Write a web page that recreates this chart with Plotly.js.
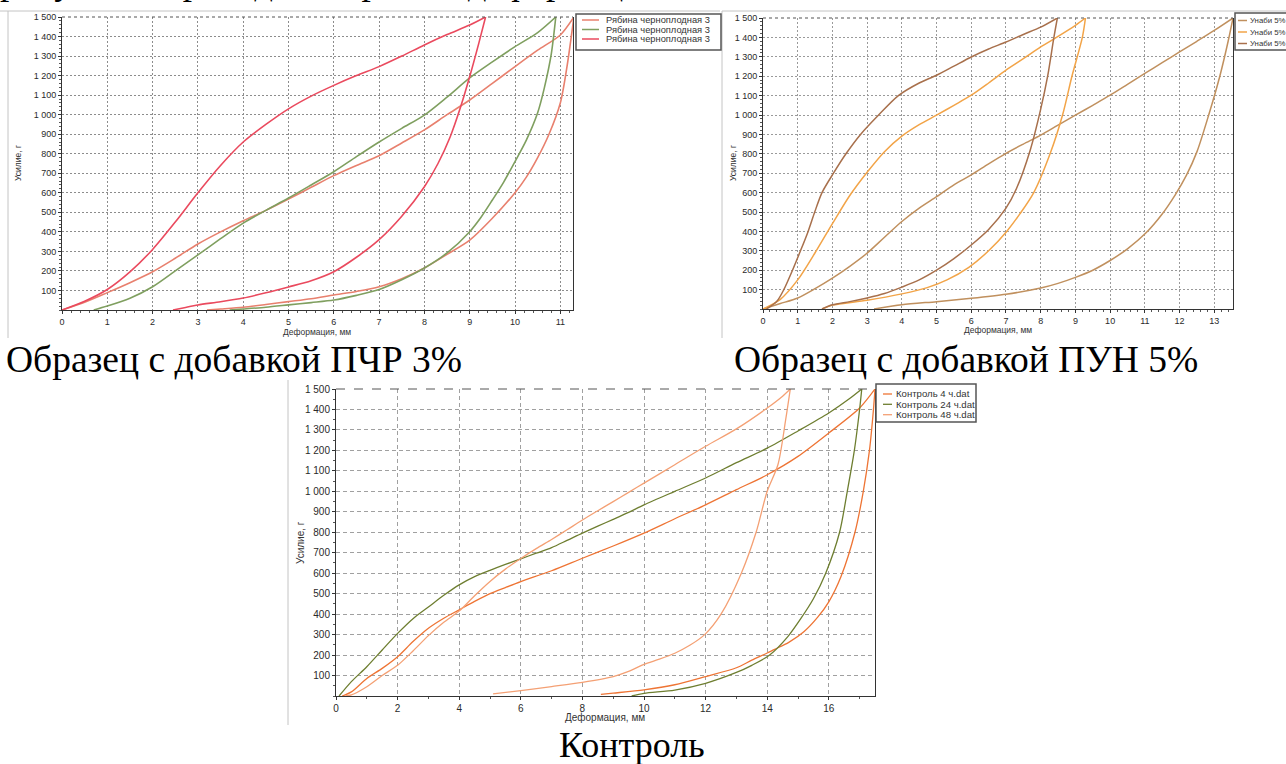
<!DOCTYPE html>
<html>
<head>
<meta charset="utf-8">
<script src="https://cdn.plot.ly/plotly-3.0.1.min.js"></script>
<style>
html,body{margin:0;padding:0;background:#ffffff;}
#chart{width:1286px;height:764px;}
</style>
</head>
<body>
<div id="chart"></div>
<script>
// ---------------- DATA ----------------
// Common y tick labels (Усилие, г)
const yTicks = [100,200,300,400,500,600,700,800,900,1000,1100,1200,1300,1400,1500];

// Chart 1: Образец с добавкой ПЧР 3%
const pchrNames  = ["Рябина черноплодная 3", "Рябина черноплодная 3", "Рябина черноплодная 3"];
const pchrColors = ["#e8806e", "#7f9f5f", "#ea4a5e"];
const pchr1_x = [0,0.5,1,1.5,2,2.5,3,3.5,4,4.5,5,5.5,6,6.5,7,7.5,8,8.5,9,9.5,10,10.5,11,11.3,
                 11.15,11.0,10.75,10.5,10.25,10,9.5,9,8.5,8,7.5,7,6.5,6,5.5,5,4.5,4,3.5,3.2];
const pchr1_y = [0,40,89,140,196,265,338,400,457,510,568,628,688,740,790,855,922,1000,1075,1160,1246,1330,1408,1500,
                 1250,1060,900,780,680,600,470,358,285,215,160,119,95,77,58,43,28,14,5,0];
const pchr2_x = [0.7,1,1.5,2,2.5,3,3.5,4,4.5,5,5.5,6,6.5,7,7.5,8,8.5,9,9.5,10,10.5,10.9,
                 10.8,10.65,10.5,10.25,10,9.75,9.5,9.25,9,8.5,8,7.5,7,6.5,6,5.5,5,4.5,4,3.7];
const pchr2_y = [0,20,60,119,200,282,365,445,510,573,640,708,785,860,930,998,1090,1188,1270,1348,1420,1500,
                 1310,1140,1010,870,760,655,563,475,401,292,215,155,105,75,51,38,26,14,5,0];
const pchr3_x = [0,0.5,1,1.5,2,2.5,3,3.5,4,4.5,5,5.5,6,6.5,7,7.5,8,8.5,9,9.35,
                 9.2,9,8.8,8.57,8.3,8,7.5,7,6.5,6,5.5,5,4.5,4,3.5,3,2.7,2.45];
const pchr3_y = [0,45,105,195,310,450,600,740,860,950,1030,1095,1150,1200,1246,1300,1357,1410,1459,1500,
                 1365,1195,1040,887,750,631,480,360,270,196,150,118,88,61,42,26,12,0];

// Chart 2: Образец с добавкой ПУН 5%
const punNames  = ["Унаби 5%", "Унаби 5%", "Унаби 5%"];
const punColors = ["#c0905e", "#f2a448", "#a8704c"];
const pun1_x = [0,0.5,1,1.5,2,2.5,3,3.5,4,4.5,5,5.5,6,6.5,7,7.5,8,8.5,9,9.5,10,10.5,11,11.5,12,12.5,13,13.54,
                13.4,13.16,12.84,12.5,12.2,11.88,11.5,11.02,10.5,10,9.5,9,8.5,8,7,6,5,4,3.2];
const pun1_y = [0,28,57,105,159,220,288,370,451,520,579,640,691,748,802,850,896,948,999,1050,1102,1158,1214,1270,1325,1380,1436,1500,
                1380,1200,1000,810,690,590,490,390,310,250,200,163,132,108,76,55,38,22,0];
const pun2_x = [0,0.5,1,1.5,2,2.5,3,3.5,4,4.5,5,5.5,6,6.5,7,7.5,8,8.5,9,9.29,
                9.2,8.9,8.63,8.27,7.8,7.4,7.02,6.5,5.93,5.3,4.73,4,3,2,1.7];
const pun2_y = [0,50,150,290,440,585,705,811,891,950,999,1050,1102,1165,1231,1290,1351,1405,1462,1500,
                1400,1200,1000,800,600,490,400,300,215,150,110,78,45,20,0];
const pun3_x = [0.1,0.4,0.6,0.85,1.08,1.3,1.49,1.7,2.03,2.39,2.81,3.33,3.9,4.5,5,5.5,6,6.5,7,7.5,8,8.48,
                8.38,8.2,8.0,7.7,7.3,7,6.5,6,5.5,5,4.5,4,3.5,3,2.5,2,1.7];
const pun3_y = [0,40,100,200,300,400,500,600,700,800,900,1000,1100,1165,1205,1252,1299,1340,1376,1415,1453,1500,
                1400,1200,1030,820,620,520,410,330,260,200,150,113,80,57,38,22,0];

// Chart 3: Контроль
const ctrlNames  = ["Контроль 4 ч.dat", "Контроль 24 ч.dat", "Контроль 48 ч.dat"];
const ctrlColors = ["#ee7434", "#6e7e30", "#f4a074"];
const ctrl1_x = [0.2,0.5,1,1.5,2,2.5,3,3.5,4,4.5,5,5.5,6,7,8,9,10,11,12,13,14,15,16,17,17.5,
                 17.45,17.32,17.12,16.85,16.4,16,15.64,15.2,14.7,14.24,14,13.5,13,12,11,10,9,8.6];
const ctrl1_y = [0,20,86,135,192,266,331,380,421,462,500,530,559,612,673,733,796,866,934,1008,1081,1171,1285,1407,1500,
                 1400,1200,1000,800,585,460,385,315,262,228,210,175,138,95,55,30,14,8];
const ctrl2_x = [0.1,0.5,1,1.5,2,2.5,3,3.5,4,4.5,5,5.5,6,6.5,7,7.5,8,8.5,9,9.5,10,11,12,13,14,15,16,16.7,17.07,
                 17.0,16.83,16.6,16.35,15.9,15.5,15.1,14.67,14.08,13.5,13,12,11,10,9.6];
const ctrl2_y = [0,70,143,225,306,378,435,492,543,583,614,643,670,698,725,760,796,830,863,897,934,1000,1065,1140,1211,1295,1383,1456,1500,
                 1400,1200,1000,800,600,475,380,290,200,150,115,62,29,13,0];
const ctrl3_x = [0.3,0.5,1,1.5,2,2.5,3,3.5,4,4.5,5,5.5,6,6.5,7,7.5,8,8.5,9,9.5,10,11,12,13,14,14.5,14.75,
                 14.6,14.35,14.0,13.64,13.16,12.5,11.97,11.5,11,10.5,10,9.5,9,8,7,6,5.1];
const ctrl3_y = [0,5,45,100,150,220,295,360,415,490,560,620,672,720,765,812,860,905,950,995,1040,1130,1220,1305,1407,1465,1500,
                 1350,1131,1000,800,600,400,300,249,209,180,155,120,95,67,46,26,10];

// ---------------- LAYOUT HELPERS ----------------
const W = 1286, H = 764;
const fx = p => p / W;
const fy = p => 1 - p / H;
const tickFamily = "Liberation Sans, Arial, sans-serif";

function xAxis(d0, d1, anchor, xmax, dtick, minorDtick, fs, gridcolor, griddash) {
  return {
    domain: [fx(d0), fx(d1)], anchor: anchor, range: [0, xmax],
    tickmode: 'linear', tick0: 0, dtick: dtick,
    showgrid: true, gridcolor: gridcolor, griddash: griddash, gridwidth: 1,
    showline: true, linecolor: '#333333', linewidth: 1, mirror: false,
    ticks: 'outside', ticklen: 3, tickcolor: '#333333', tickwidth: 1,
    minor: {dtick: minorDtick, ticks: 'outside', ticklen: 2, tickcolor: '#555555', showgrid: false},
    tickfont: {family: tickFamily, size: fs, color: '#2a2a2a'},
    zeroline: false, fixedrange: true, automargin: false
  };
}
function yAxis(d0, d1, anchor, minorDtick, fs, gridcolor, griddash) {
  return {
    domain: [fy(d1), fy(d0)], anchor: anchor, range: [0, 1500],
    tickmode: 'array', tickvals: yTicks, separatethousands: true,
    showgrid: true, gridcolor: gridcolor, griddash: griddash, gridwidth: 1,
    showline: true, linecolor: '#333333', linewidth: 1, mirror: true,
    ticks: 'outside', ticklen: 3, tickcolor: '#333333', tickwidth: 1,
    minor: {dtick: minorDtick, ticks: 'outside', ticklen: 2, tickcolor: '#555555', showgrid: false},
    tickfont: {family: tickFamily, size: fs, color: '#2a2a2a'},
    zeroline: false, fixedrange: true, automargin: false
  };
}

// Plot-area pixel boxes [left, right, top, bottom]
const box1 = [62, 573, 17, 310];
const box2 = [763, 1233, 18, 309];
const box3 = [336, 875, 389, 696];

// ---------------- TRACES ----------------
// each loop = loading branch (up to the 1500 g peak) + unloading branch, drawn as smooth curves
const traces = [];
function loop(x, y, color, xa, ya, width, name) {
  let k = 0;
  for (let i = 1; i < y.length; i++) if (y[i] > y[k]) k = i;
  const parts = [[x.slice(0, k + 1), y.slice(0, k + 1)], [x.slice(k), y.slice(k)]];
  parts.forEach(p => traces.push({
    x: p[0], y: p[1], type: 'scatter', mode: 'lines', name: name, xaxis: xa, yaxis: ya,
    line: {color: color, width: width, shape: 'spline', smoothing: 0.8},
    showlegend: false, hoverinfo: 'skip', cliponaxis: true
  }));
}
loop(pchr1_x, pchr1_y, pchrColors[0], 'x', 'y', 1.6, pchrNames[0]);
loop(pchr2_x, pchr2_y, pchrColors[1], 'x', 'y', 1.6, pchrNames[1]);
loop(pchr3_x, pchr3_y, pchrColors[2], 'x', 'y', 1.6, pchrNames[2]);
loop(pun1_x, pun1_y, punColors[0], 'x2', 'y2', 1.5, punNames[0]);
loop(pun2_x, pun2_y, punColors[1], 'x2', 'y2', 1.5, punNames[1]);
loop(pun3_x, pun3_y, punColors[2], 'x2', 'y2', 1.5, punNames[2]);
loop(ctrl1_x, ctrl1_y, ctrlColors[0], 'x3', 'y3', 1.3, ctrlNames[0]);
loop(ctrl2_x, ctrl2_y, ctrlColors[1], 'x3', 'y3', 1.3, ctrlNames[1]);
loop(ctrl3_x, ctrl3_y, ctrlColors[2], 'x3', 'y3', 1.3, ctrlNames[2]);

// ---------------- SHAPES & ANNOTATIONS ----------------
const shapes = [];
const annotations = [];
function pline(x0, y0, x1, y1, color, width, dash) {
  shapes.push({type: 'line', xref: 'paper', yref: 'paper', x0: fx(x0), y0: fy(y0), x1: fx(x1), y1: fy(y1),
               line: {color: color, width: width, dash: dash || 'solid'}, layer: 'above'});
}
function prect(x0, y0, x1, y1, color, width) {
  shapes.push({type: 'rect', xref: 'paper', yref: 'paper', x0: fx(x0), y0: fy(y1), x1: fx(x1), y1: fy(y0),
               line: {color: color, width: width}, fillcolor: '#ffffff', layer: 'above'});
}
function text(t, x, y, size, opts) {
  opts = opts || {};
  annotations.push(Object.assign({
    text: t, xref: 'paper', yref: 'paper', x: fx(x), y: fy(y), showarrow: false,
    xanchor: 'center', yanchor: 'middle',
    font: {family: tickFamily, size: size, color: '#333333'}
  }, opts));
}

// screenshot frames
pline(0, 11, 720, 11, '#c4c4c4', 1);
pline(8, 11, 8, 338, '#c4c4c4', 1);
pline(722, 11, 1286, 11, '#c4c4c4', 1);
pline(722, 11, 722, 338, '#c4c4c4', 1);
pline(288, 380, 288, 725, '#c4c4c4', 1);

// top borders of the plot areas (dashed)
pline(box1[0], box1[2], box1[1], box1[2], '#555555', 1.2, 'dot');
pline(box2[0], box2[2], box2[1], box2[2], '#555555', 1.2, 'dot');
pline(box3[0], box3[2], box3[1], box3[2], '#555555', 1, 'dash');

// axis titles
text("Деформация, мм", 317, 332, 8.5);
text("Усилие, г", 18, 163, 8.5, {textangle: -90});
text("Деформация, мм", 998, 330, 8.5);
text("Усилие, г", 733, 163, 8.5, {textangle: -90});
text("Деформация, мм", 605, 717, 10);
text("Усилие, г", 300, 543, 10, {textangle: -90});

// custom legends (compact, as in the source screenshots)
function legend(bx0, by0, bx1, by1, sw0, sw1, tx, ys, names, colors, fs, lw) {
  prect(bx0, by0, bx1, by1, '#555555', 1.5);
  for (let i = 0; i < names.length; i++) {
    pline(sw0, ys[i], sw1, ys[i], colors[i], lw);
    text(names[i], tx, ys[i], fs, {xanchor: 'left', font: {family: tickFamily, size: fs, color: '#333333'}});
  }
}
legend(576, 14, 721, 50, 582, 599, 604, [20, 29.5, 39], pchrNames, pchrColors, 9.3, 1.5);
legend(1235, 13, 1292, 50, 1238, 1247, 1248, [20.5, 32, 43.5], punNames, punColors, 7.8, 1.5);
legend(876, 384, 976, 422, 883, 892, 894, [394, 404.3, 414.7], ctrlNames, ctrlColors, 9.6, 1.3);

// captions (document text around the figure)
const serif = "Liberation Serif, Times New Roman, serif";
text("рисунке 3 приведены кривые деформаций.", -2, 4, 37,
     {xanchor: 'left', yanchor: 'bottom', font: {family: serif, size: 37, color: '#000000'}});
text("Образец с добавкой ПЧР 3%", 4, 360, 37.5,
     {xanchor: 'left', font: {family: serif, size: 37.5, color: '#000000'}});
text("Образец с добавкой ПУН 5%", 732, 360, 37.5,
     {xanchor: 'left', font: {family: serif, size: 37.5, color: '#000000'}});
text("Контроль", 632, 745, 36,
     {font: {family: serif, size: 36, color: '#000000'}});

const layout = {
  width: W, height: H,
  margin: {l: 0, r: 0, t: 0, b: 0, pad: 0},
  paper_bgcolor: '#ffffff', plot_bgcolor: '#ffffff',
  separators: ', ',
  showlegend: false,
  xaxis:  xAxis(box1[0], box1[1], 'y',  11.28, 1, 0.2, 9, '#8c8c8c', '2px,2px'),
  yaxis:  yAxis(box1[2], box1[3], 'x', 20, 9, '#8c8c8c', '2px,2px'),
  xaxis2: xAxis(box2[0], box2[1], 'y2', 13.54, 1, 0.2, 9, '#9a9a9a', '2px,2px'),
  yaxis2: yAxis(box2[2], box2[3], 'x2', 20, 9, '#9a9a9a', '2px,2px'),
  xaxis3: xAxis(box3[0], box3[1], 'y3', 17.5, 2, 1, 10, '#a0a0a0', '4px,3px'),
  yaxis3: yAxis(box3[2], box3[3], 'x3', 50, 10, '#a0a0a0', '4px,3px'),
  shapes: shapes,
  annotations: annotations
};

Plotly.newPlot('chart', traces, layout, {staticPlot: true, displayModeBar: false});
</script>
</body>
</html>
